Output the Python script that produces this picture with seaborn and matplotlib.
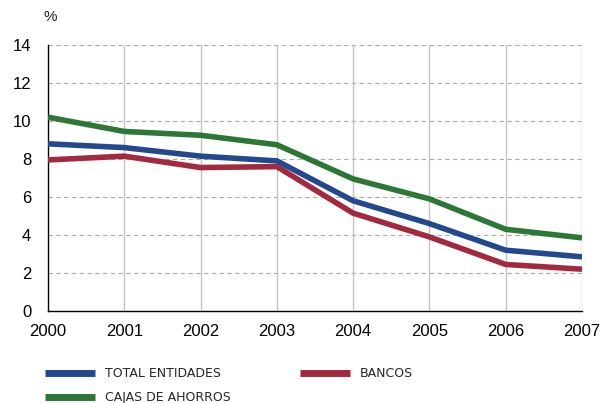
import matplotlib
matplotlib.use("Agg")
import matplotlib.pyplot as plt
import numpy as np
import pandas as pd
import seaborn as sns

years = [2000, 2001, 2002, 2003, 2004, 2005, 2006, 2007]
total_entidades = [8.8, 8.6, 8.15, 7.9, 5.8, 4.6, 3.2, 2.85]
bancos = [7.95, 8.15, 7.55, 7.6, 5.15, 3.9, 2.45, 2.2]
cajas = [10.2, 9.45, 9.25, 8.75, 6.95, 5.9, 4.3, 3.85]

series_names = ["TOTAL ENTIDADES", "CAJAS DE AHORROS", "BANCOS"]
colors = {"TOTAL ENTIDADES": "#22498f", "BANCOS": "#a3293f", "CAJAS DE AHORROS": "#2c7636"}

df = pd.concat([
    pd.DataFrame({"year": years, "value": total_entidades, "serie": "TOTAL ENTIDADES"}),
    pd.DataFrame({"year": years, "value": cajas, "serie": "CAJAS DE AHORROS"}),
    pd.DataFrame({"year": years, "value": bancos, "serie": "BANCOS"}),
])

sns.set_style("white")
plt.rcParams['font.family'] = ['Liberation Sans', 'DejaVu Sans']

fig = plt.figure(figsize=(6.01, 4.03), dpi=100)
ax = fig.add_axes([48 / 601, 92 / 403, 534 / 601, 266 / 403])

sns.lineplot(data=df, x="year", y="value", hue="serie", hue_order=series_names,
             palette=colors, linewidth=4.0, ax=ax, legend=False, zorder=3)
for line in ax.lines:
    line.set_solid_capstyle('butt')

ax.set_xlim(2000, 2007)
ax.set_ylim(0, 14)
ax.set_xticks(years)
ax.set_yticks(np.arange(0, 15, 2))
ax.set_xlabel("")
ax.set_ylabel("")
ax.tick_params(axis='both', labelsize=12, colors='black')
ax.tick_params(axis='x', direction='in', length=4, width=0.8, color='#999999', pad=9)
ax.tick_params(axis='y', length=0, pad=12)

for y in np.arange(2, 15, 2):
    ax.axhline(y, color='#aaaaaa', linestyle=(0, (4, 3)), linewidth=0.8, zorder=1)
for x in years[1:]:
    ax.axvline(x, color='#c4c4c4', linewidth=1.0, zorder=1)

for side in ['top', 'right']:
    ax.spines[side].set_visible(False)
ax.spines['left'].set_color('black')
ax.spines['bottom'].set_color('black')
ax.spines['left'].set_linewidth(1.0)
ax.spines['bottom'].set_linewidth(1.0)

fig.text(44 / 601, 1 - 17 / 403, "%", fontsize=11, va='center', ha='left')

legend_font = {'family': 'DejaVu Sans', 'size': 9}


def add_legend(names, x0):
    handles = [plt.Line2D([], [], color=colors[n], linewidth=5, solid_capstyle='butt')
               for n in names]
    leg = fig.legend(handles, names, loc='upper left',
                     bbox_to_anchor=(x0 / 601, 1 - 367 / 403), frameon=False,
                     handlelength=4.0, handletextpad=0.8, labelspacing=0.9,
                     borderaxespad=0, borderpad=0, prop=legend_font)
    return leg


add_legend(["TOTAL ENTIDADES", "CAJAS DE AHORROS"], 45)
add_legend(["BANCOS"], 300)

fig.savefig("out.png", dpi=100)
